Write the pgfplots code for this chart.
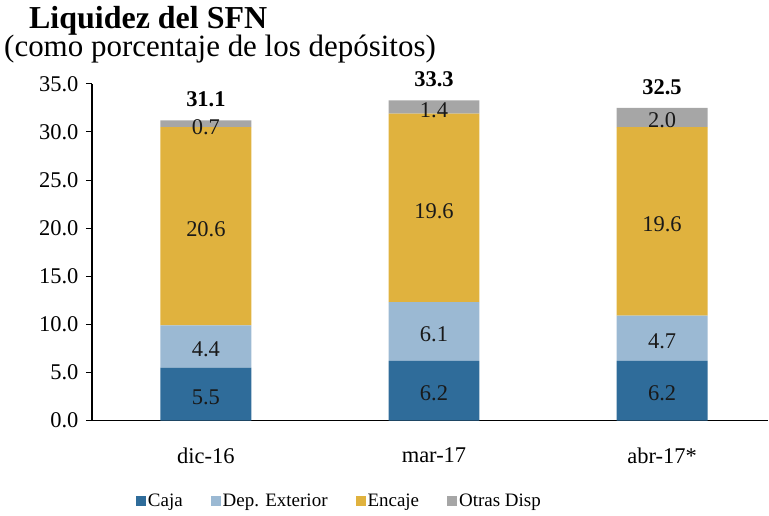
\documentclass[border=0pt]{standalone}
\usepackage{pgfplots}
\pgfplotsset{compat=1.18}
\usepackage{fontspec}
\setmainfont{Liberation Serif}
\definecolor{caja}{HTML}{2F6C9A}
\definecolor{dep}{HTML}{9BB9D3}
\definecolor{enc}{HTML}{E0B23E}
\definecolor{otras}{HTML}{A6A6A6}
\newcommand{\fs}{\fontsize{22.5bp}{26bp}\selectfont}
\newcommand{\fl}{\fontsize{19bp}{22bp}\selectfont}
\begin{document}
\begin{tikzpicture}
\pgfplotsset{
  common/.style={
    at={(0,0)}, anchor=south west,
    scale only axis, width=677bp, height=337bp,
    xmin=-0.5, xmax=2.465, ymin=0, ymax=35,
    /pgf/number format/assume math mode=true,
    every tick label/.append style={font=\fs},
  }
}
\begin{axis}[common,
  ybar stacked, bar width=91bp,
  axis x line*=bottom, axis y line*=left,
  axis line style={line width=1.8bp, -},
  xtick={0,1,2}, xticklabels={dic-16,mar-17,abr-17*},
  xtick style={draw=none},
  xticklabel style={yshift=-18bp},
  ytick={0,5,...,35},
  yticklabel style={/pgf/number format/fixed, /pgf/number format/fixed zerofill, /pgf/number format/precision=1, xshift=-4bp},
  ytick style={line width=1bp, black},
  tick align=outside, major tick length=6bp,
  legend columns=4,
  legend style={draw=none, at={(0.366,-81bp)}, anchor=center, font=\fl,
    /tikz/every even column/.append style={column sep=26bp}},
  legend image code/.code={\fill[#1] (0bp,-5bp) rectangle (10bp,5bp);},
]
\addplot[fill=caja, draw=none] coordinates {(0,5.5) (1,6.2) (2,6.2)};
\addplot[fill=dep, draw=none] coordinates {(0,4.4) (1,6.1) (2,4.7)};
\addplot[fill=enc, draw=none] coordinates {(0,20.6) (1,19.6) (2,19.6)};
\addplot[fill=otras, draw=none] coordinates {(0,0.7) (1,1.4) (2,2.0)};
\legend{Caja,Dep. Exterior,Encaje,Otras Disp}
\end{axis}
\begin{axis}[common, hide axis,
  nodes near coords, point meta=explicit symbolic,
  every node near coord/.append style={font=\fs, text=black!90, anchor=center, inner sep=0pt, yshift=-3bp}]
\addplot[only marks, mark=none] table[meta=l] {
x y l
0 2.75 5.5
1 3.1 6.2
2 3.1 6.2
0 7.7 4.4
1 9.25 6.1
2 8.55 4.7
0 20.2 20.6
1 22.1 19.6
2 20.7 19.6
0 30.85 0.7
1 32.6 1.4
2 31.5 2.0
};
\end{axis}
\begin{axis}[common, hide axis,
  nodes near coords, point meta=explicit symbolic,
  every node near coord/.append style={font=\fs\bfseries, text=black, anchor=south, inner sep=0pt, yshift=13bp}]
\addplot[only marks, mark=none] table[meta=l] {
x y l
0 31.2 31.1
1 33.3 33.3
2 32.5 32.5
};
\end{axis}
\node[anchor=base west, inner sep=0pt, font=\fontsize{32bp}{36bp}\selectfont\bfseries] at (-63bp,392bp) {Liquidez del SFN};
\node[anchor=base west, inner sep=0pt, font=\fontsize{31bp}{36bp}\selectfont] at (-88bp,364bp) {(como porcentaje de los depósitos)};
\useasboundingbox (-92bp,-95bp) rectangle (677bp,421bp);
\end{tikzpicture}
\end{document}
